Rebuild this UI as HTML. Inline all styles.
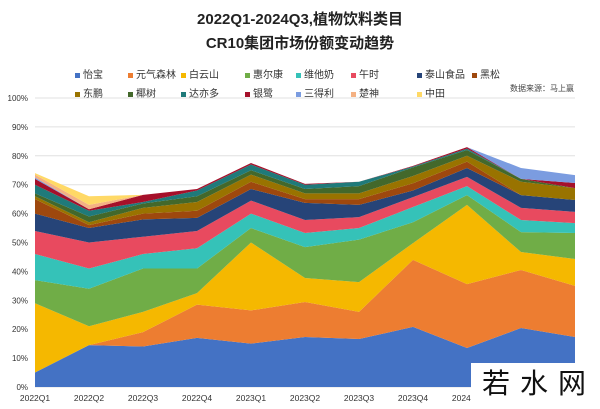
<!DOCTYPE html>
<html><head><meta charset="utf-8"><style>
body{margin:0;background:#fff;}
#w{position:relative;width:600px;height:409px;overflow:hidden;background:#fff;font-family:"Liberation Sans","Noto Sans CJK SC",sans-serif;}
.t{position:absolute;left:0;width:600px;text-align:center;font-weight:bold;font-size:15px;color:#222;}
.lg{position:absolute;font-size:10px;color:#333;white-space:nowrap;}
.lg i{display:inline-block;width:5px;height:5px;margin-right:3px;vertical-align:middle;}
</style></head><body><div id="w">
<div class="t" style="top:8px">2022Q1-2024Q3,植物饮料类目</div>
<div class="t" style="top:32px">CR10集团市场份额变动趋势</div>
<div id="leg"></div>
<div class="lg" style="left:510px;top:83px;font-size:8px;color:#444">数据来源：马上赢</div>
<svg id="s" width="600" height="409" style="position:absolute;left:0;top:0"></svg>
<div style="position:absolute;left:471px;top:363px;width:129px;height:46px;background:#fff;"></div>
<div style="position:absolute;left:482px;top:366px;font-size:28px;color:#111;letter-spacing:10px;white-space:nowrap;font-family:'Noto Sans CJK SC',sans-serif;line-height:32px">若水网</div>
</div>
<script>
const names=["怡宝","元气森林","白云山","惠尔康","维他奶","午时","泰山食品","黑松","东鹏","椰树","达亦多","银鹭","三得利","楚神","中田"];
const cols=["#4472c4","#ed7d31","#f5b800","#70ad47","#35c2b8","#e84a5f","#264478","#9e480e","#997300","#43682b","#1f7a7a","#a5102a","#7b9ce0","#f4b183","#ffd966"];
const C=[
[5,5,29,37,46,54,60,65,66,67,70,72,72.5,73.5,74],
[14.5,14.5,21,34,41,50,55,56,57,59,61,61.5,61.5,63,66],
[14,19,26,41,46,52,58,60,62,63.5,64,66.5,66.5,66.5,66.5],
[17,28.5,32.5,41,48,54,58.5,61,64,66,68,68.5,68.5,68.5,68.5],
[15,26.5,50,55,60,64.5,68.5,71,73.5,75,77,77.5,77.5,77.5,77.5],
[17.3,29.4,37.7,48.4,53.3,57.8,63.7,65,67,68.5,70,70.3,70.3,70.3,70.3],
[16.6,26,36.3,51,55,58.8,63,65,67,69.5,71,71,71,71,71],
[20.8,44,49.8,57,62.3,65.7,68,70.5,73,76,76.3,76.5,76.5,76.5,76.5],
[13.5,35.6,63,66.4,69.5,72.7,75.8,78,80,82,82.5,83,83,83,83],
[20.4,40.5,46.7,53.6,57.8,62,66.4,66.4,71,72,72,72,75.8,75.8,75.8],
[17.3,35,44.3,53.3,56.7,60.6,64.7,64.7,68.8,68.8,68.8,70.6,73.3,73.3,73.3]];
const X=i=>35+i*54, Y=v=>387-v*2.89;
let h='';
for(let g=0;g<=10;g++){const y=Y(g*10);h+=`<line x1="35" x2="575" y1="${y}" y2="${y}" stroke="#e0e0e0"/><text x="28" y="${y+3}" font-size="8" text-anchor="end" fill="#333">${g*10}%</text>`;}
for(let k=0;k<15;k++){let top=[],bot=[];for(let i=0;i<11;i++){top.push(X(i)+','+Y(C[i][k]));bot.unshift(X(i)+','+Y(k?C[i][k-1]:0));}
h+=`<polygon points="${top.join(' ')} ${bot.join(' ')}" fill="${cols[k]}"/>`;}
const q=["2022Q1","2022Q2","2022Q3","2022Q4","2023Q1","2023Q2","2023Q3","2023Q4","2024Q1","2024Q2","2024Q3"];
q.forEach((t,i)=>h+=`<text x="${X(i)}" y="401" font-size="8.5" text-anchor="middle" fill="#333">${t}</text>`);
document.getElementById('s').innerHTML=h;
const lx=[75,128,181,245,296,351,417,472];let L='';
names.forEach((n,i)=>{const r=i<8?0:1,c=i<8?i:i-8;L+=`<div class="lg" style="left:${lx[c]}px;top:${66+r*19}px"><i style="background:${cols[i]}"></i>${n}</div>`;});
document.getElementById('leg').innerHTML=L;
</script></body></html>
